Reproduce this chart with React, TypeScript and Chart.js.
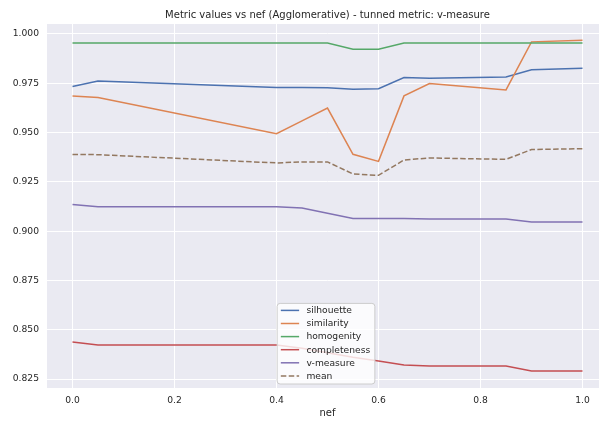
import React, { useEffect, useRef } from "react";
import { Chart, registerables } from "chart.js";

Chart.register(...registerables);

const nefValues = [0, 0.05, 0.4, 0.45, 0.5, 0.55, 0.6, 0.65, 0.7, 0.85, 0.9, 1.0];
const silhouette = [0.9734, 0.9762, 0.9728, 0.9728, 0.9727, 0.972, 0.9722, 0.9779, 0.9775, 0.9782, 0.9819, 0.9826];
const similarity = [0.9686, 0.9678, 0.9494, 0.9559, 0.9624, 0.939, 0.9354, 0.9686, 0.9749, 0.9716, 0.996, 0.9968];
const homogenity = [0.9954, 0.9954, 0.9954, 0.9954, 0.9954, 0.9923, 0.9923, 0.9954, 0.9954, 0.9954, 0.9954, 0.9954];
const completeness = [0.8438, 0.8423, 0.8423, 0.8406, 0.8383, 0.836, 0.8342, 0.8321, 0.8316, 0.8316, 0.8291, 0.8291];
const vMeasure = [0.9135, 0.9124, 0.9124, 0.9117, 0.9091, 0.9064, 0.9064, 0.9064, 0.9062, 0.9062, 0.9047, 0.9047];
const meanValues = [0.9389, 0.9388, 0.9346, 0.9351, 0.9351, 0.929, 0.9283, 0.9361, 0.9371, 0.9364, 0.9414, 0.9418];

const seriesNames = ["silhouette", "similarity", "homogenity", "completeness", "v-measure", "mean"];
const seriesValues = [silhouette, similarity, homogenity, completeness, vMeasure, meanValues];
const seriesColors = ["#4C72B0", "#DD8452", "#55A868", "#C44E52", "#8172B3", "#937860"];

const xTicks = [0, 0.2, 0.4, 0.6, 0.8, 1.0];
const yTicks = [0.825, 0.85, 0.875, 0.9, 0.925, 0.95, 0.975, 1.0];

const titleText = "Metric values vs nef (Agglomerative) - tunned metric: v-measure";
const xTitle = "nef";

const FONT = "'DejaVu Sans', sans-serif";
const TEXT = "#262626";
const DASH = [5.5, 2.4];
const LW = 1.5;

const bgPlugin = {
  id: "bgPlugin",
  beforeDraw(chart: any) {
    const { ctx, chartArea } = chart;
    ctx.save();
    ctx.fillStyle = "#ffffff";
    ctx.fillRect(0, 0, chart.width, chart.height);
    ctx.fillStyle = "#EAEAF2";
    ctx.fillRect(chartArea.left, chartArea.top, chartArea.right - chartArea.left, chartArea.bottom - chartArea.top);
    ctx.restore();
  },
};

const legendPlugin = {
  id: "legendPlugin",
  afterDraw(chart: any) {
    const { ctx, chartArea } = chart;
    const fs = 9.17;
    ctx.save();
    ctx.font = `${fs}px ${FONT}`;
    let maxW = 0;
    seriesNames.forEach((n) => {
      maxW = Math.max(maxW, ctx.measureText(n).width);
    });
    const pad = 3.7;
    const handle = 18.3;
    const gap = 7.3;
    const rowH = 13.1;
    const w = pad + handle + gap + maxW + pad + 1;
    const h = rowH * seriesNames.length + 2;
    const cx = (chartArea.left + chartArea.right) / 2 - 1.5;
    const x0 = cx - w / 2;
    const y1 = chartArea.bottom - 4;
    const y0 = y1 - h;
    const r = 3;
    ctx.beginPath();
    ctx.moveTo(x0 + r, y0);
    ctx.lineTo(x0 + w - r, y0);
    ctx.quadraticCurveTo(x0 + w, y0, x0 + w, y0 + r);
    ctx.lineTo(x0 + w, y1 - r);
    ctx.quadraticCurveTo(x0 + w, y1, x0 + w - r, y1);
    ctx.lineTo(x0 + r, y1);
    ctx.quadraticCurveTo(x0, y1, x0, y1 - r);
    ctx.lineTo(x0, y0 + r);
    ctx.quadraticCurveTo(x0, y0, x0 + r, y0);
    ctx.closePath();
    ctx.fillStyle = "rgba(255,255,255,0.8)";
    ctx.fill();
    ctx.strokeStyle = "#cccccc";
    ctx.lineWidth = 1;
    ctx.stroke();
    ctx.textBaseline = "middle";
    ctx.textAlign = "left";
    seriesNames.forEach((n, i) => {
      const yc = y0 + 7 + i * rowH;
      ctx.beginPath();
      ctx.strokeStyle = seriesColors[i];
      ctx.lineWidth = LW;
      ctx.setLineDash(i === 5 ? DASH : []);
      ctx.moveTo(x0 + pad, yc);
      ctx.lineTo(x0 + pad + handle, yc);
      ctx.stroke();
      ctx.setLineDash([]);
      ctx.fillStyle = TEXT;
      ctx.fillText(n, x0 + pad + handle + gap, yc + 0.5);
    });
    ctx.restore();
  },
};

export default function App() {
  const ref = useRef<HTMLCanvasElement | null>(null);

  useEffect(() => {
    if (!ref.current) return;
    const datasets = seriesNames.map((name, i) => ({
      label: name,
      data: nefValues.map((x, j) => ({ x, y: seriesValues[i][j] })),
      borderColor: seriesColors[i],
      backgroundColor: seriesColors[i],
      borderWidth: LW,
      borderDash: i === 5 ? DASH : [],
      pointRadius: 0,
      fill: false,
      tension: 0,
      order: seriesNames.length - i,
    }));

    const chart = new Chart(ref.current, {
      type: "line",
      data: { datasets },
      options: {
        animation: false,
        responsive: false,
        devicePixelRatio: 1,
        layout: { padding: 0 },
        plugins: {
          legend: { display: false },
          tooltip: { enabled: false },
          title: {
            display: true,
            text: titleText,
            fullSize: false,
            color: TEXT,
            font: { family: FONT, size: 10, weight: "normal" },
            padding: { top: 9, bottom: 3 },
          },
        },
        scales: {
          x: {
            type: "linear",
            min: -0.05,
            max: 1.05,
            afterBuildTicks: (scale: any) => {
              scale.ticks = xTicks.map((v) => ({ value: v }));
            },
            afterFit: (scale: any) => {
              scale.height = 33;
            },
            ticks: {
              autoSkip: false,
              maxRotation: 0,
              padding: 7,
              color: TEXT,
              font: { family: FONT, size: 9.17 },
              callback: (v: any) => Number(v).toFixed(1),
            },
            grid: { color: "#ffffff", lineWidth: 1, tickLength: 0, drawTicks: false },
            border: { display: false },
            title: {
              display: true,
              text: xTitle,
              color: TEXT,
              font: { family: FONT, size: 10 },
              padding: { top: 0, bottom: 2 },
            },
          },
          y: {
            type: "linear",
            min: 0.82045,
            max: 1.00506,
            afterBuildTicks: (scale: any) => {
              scale.ticks = yTicks.map((v) => ({ value: v }));
            },
            afterFit: (scale: any) => {
              scale.width = 47;
            },
            ticks: {
              autoSkip: false,
              padding: 8,
              color: TEXT,
              font: { family: FONT, size: 9.17 },
              callback: (v: any) => Number(v).toFixed(3),
            },
            grid: { color: "#ffffff", lineWidth: 1, tickLength: 0, drawTicks: false },
            border: { display: false },
          },
        },
      },
      plugins: [bgPlugin, legendPlugin],
    } as any);

    return () => chart.destroy();
  }, []);

  return (
    <div style={{ position: "fixed", left: 0, top: 0, width: 599, height: 421, overflow: "hidden", background: "#fff" }}>
      <canvas ref={ref} width={608} height={421} style={{ display: "block", width: 608, height: 421 }} />
    </div>
  );
}
